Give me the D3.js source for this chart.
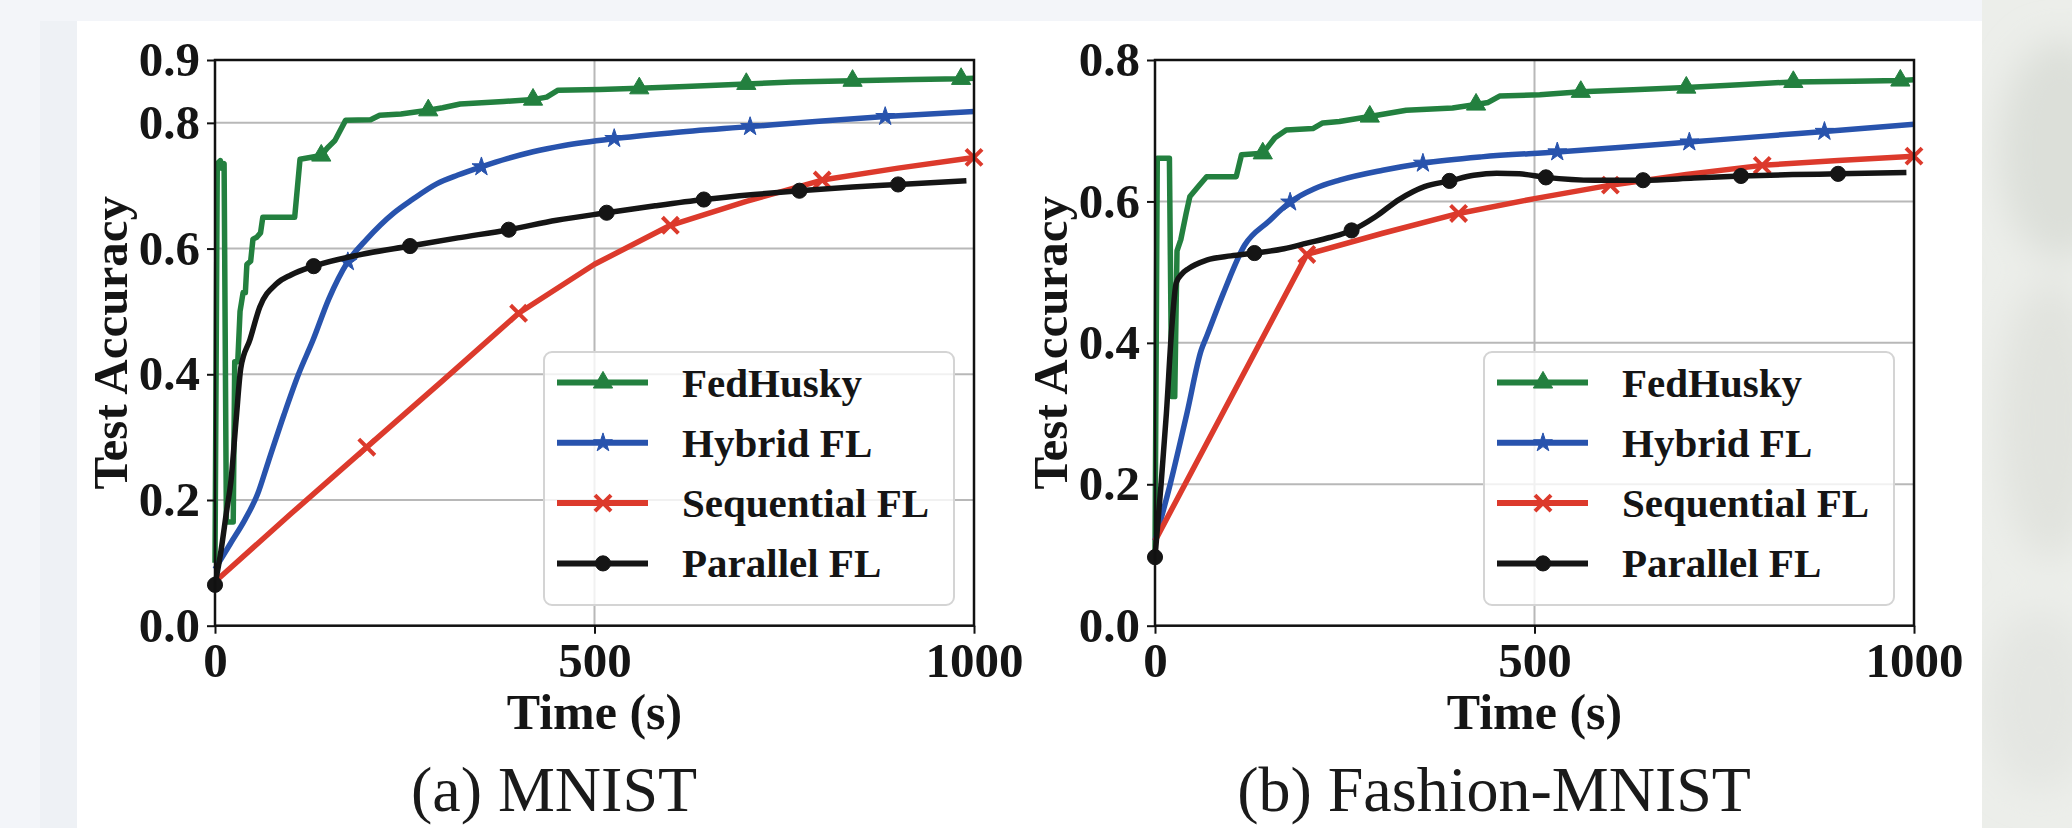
<!DOCTYPE html>
<html>
<head>
<meta charset="utf-8">
<script src="https://cdn.jsdelivr.net/npm/d3@7"></script>
<style>
  html, body { margin: 0; padding: 0; background: #f3f5f9; }
  svg { display: block; }
</style>
</head>
<body>
<svg id="fig" width="2072" height="828"></svg>
<script>
"use strict";

// shared tick labels
let timeTicks = [0, 500, 1000];
let mnistAccTicks = [0.0, 0.2, 0.4, 0.6, 0.8, 0.9];
let fashionAccTicks = [0.0, 0.2, 0.4, 0.6, 0.8];
let methods = ['FedHusky', 'Hybrid FL', 'Sequential FL', 'Parallel FL'];
let captions = ['(a) MNIST', '(b) Fashion-MNIST'];

// (a) MNIST
let mnistHuskyTime = [0, 3, 7, 9, 12, 15, 24, 26, 30, 33, 37, 40, 42, 47, 50, 55, 60, 63, 105, 112, 140, 148, 158, 172, 205, 217, 245, 281, 300, 323, 380, 419, 437, 452, 507, 559, 620, 700, 760, 840, 920, 983, 1000];
let mnistHuskyAcc = [0.10, 0.735, 0.74, 0.728, 0.735, 0.165, 0.165, 0.42, 0.42, 0.50, 0.53, 0.53, 0.575, 0.58, 0.615, 0.618, 0.625, 0.65, 0.65, 0.742, 0.748, 0.76, 0.772, 0.804, 0.805, 0.812, 0.814, 0.82, 0.824, 0.83, 0.834, 0.837, 0.841, 0.852, 0.853, 0.855, 0.858, 0.862, 0.865, 0.867, 0.869, 0.870, 0.871];
let mnistHuskyMarks = [140, 281, 419, 559, 700, 840, 983];

let mnistHybridTime = [0, 20, 40, 56, 70, 91, 110, 129, 150, 175, 200, 235, 260, 292, 320, 351, 385, 419, 460, 526, 600, 705, 800, 883, 1000];
let mnistHybridAcc = [0.09, 0.13, 0.17, 0.209, 0.26, 0.336, 0.40, 0.454, 0.52, 0.579, 0.615, 0.656, 0.678, 0.703, 0.717, 0.730, 0.743, 0.754, 0.764, 0.775, 0.784, 0.794, 0.803, 0.810, 0.818];
let mnistHybridMarks = [175, 351, 526, 705, 883];

let mnistSeqTime = [0, 100, 200, 300, 400, 500, 600, 700, 800, 900, 1000];
let mnistSeqAcc = [0.07, 0.178, 0.284, 0.39, 0.497, 0.575, 0.637, 0.675, 0.709, 0.728, 0.745];
let mnistSeqMarks = [200, 400, 600, 800, 1000];

let mnistParTime = [0, 8, 15, 21, 28, 34, 46, 59, 81, 100, 130, 190, 257, 320, 387, 450, 516, 580, 644, 710, 770, 840, 900, 990];
let mnistParAcc = [0.065, 0.12, 0.18, 0.23, 0.33, 0.41, 0.455, 0.507, 0.544, 0.558, 0.572, 0.59, 0.604, 0.617, 0.630, 0.645, 0.657, 0.668, 0.678, 0.686, 0.692, 0.698, 0.702, 0.708];
let mnistParMarks = [0, 130, 257, 387, 516, 644, 770, 900];

// (b) Fashion-MNIST
let fashionHuskyTime = [0, 3, 19, 22, 26, 29, 34, 41, 46, 57, 68, 107, 114, 142, 158, 173, 208, 221, 243, 283, 331, 392, 423, 439, 454, 507, 561, 630, 700, 770, 841, 920, 982, 1000];
let fashionHuskyAcc = [0.10, 0.661, 0.661, 0.324, 0.324, 0.53, 0.546, 0.583, 0.607, 0.621, 0.635, 0.635, 0.666, 0.668, 0.69, 0.701, 0.703, 0.711, 0.713, 0.72, 0.729, 0.732, 0.737, 0.74, 0.749, 0.751, 0.755, 0.758, 0.761, 0.765, 0.769, 0.770, 0.771, 0.772];
let fashionHuskyMarks = [142, 283, 423, 561, 700, 841, 982];

let fashionHybridTime = [0, 20, 42, 61, 68, 90, 118, 150, 178, 210, 243, 300, 353, 430, 530, 620, 704, 800, 882, 1000];
let fashionHybridAcc = [0.12, 0.20, 0.30, 0.39, 0.409, 0.47, 0.538, 0.572, 0.599, 0.618, 0.630, 0.644, 0.654, 0.663, 0.670, 0.677, 0.684, 0.692, 0.699, 0.709];
let fashionHybridMarks = [178, 353, 530, 704, 882];

let fashionSeqTime = [0, 200, 300, 400, 500, 600, 700, 800, 900, 1000];
let fashionSeqAcc = [0.12, 0.525, 0.555, 0.583, 0.604, 0.623, 0.638, 0.651, 0.658, 0.664];
let fashionSeqMarks = [200, 400, 600, 800, 1000];

let fashionParTime = [0, 8, 15, 22, 28, 36, 44, 68, 100, 131, 170, 200, 230, 259, 290, 322, 355, 388, 420, 450, 480, 515, 580, 643, 710, 772, 840, 900, 990];
let fashionParAcc = [0.097, 0.20, 0.30, 0.42, 0.485, 0.498, 0.505, 0.517, 0.523, 0.527, 0.533, 0.541, 0.549, 0.559, 0.578, 0.603, 0.621, 0.629, 0.637, 0.640, 0.639, 0.634, 0.630, 0.630, 0.633, 0.636, 0.638, 0.639, 0.641];
let fashionParMarks = [0, 131, 259, 388, 515, 643, 772, 900];

// look of each method (same order as `methods`)
let colors = ['#23803f', '#2853ad', '#dc3a2c', '#151515'];
let shapes = ['triangle', 'star', 'x', 'circle'];
let curves = [d3.curveLinear, d3.curveMonotoneX, d3.curveLinear, d3.curveMonotoneX];

let svg = d3.select('#fig');
let serif = "'Liberation Serif', 'Times New Roman', serif";

// ---- page backdrop (photo of a slide) ----
let defs = svg.append('defs');
defs.append('filter').attr('id', 'soft')
    .append('feGaussianBlur').attr('stdDeviation', 18);

svg.append('rect').attr('width', 2072).attr('height', 828).attr('fill', '#f3f5f9');
svg.append('rect').attr('x', 40).attr('y', 21).attr('width', 37).attr('height', 807).attr('fill', '#eef1f5');
svg.append('rect').attr('x', 1982).attr('y', 0).attr('width', 90).attr('height', 828).attr('fill', '#eceeea');
let blobs = svg.append('g').attr('filter', 'url(#soft)');
blobs.append('ellipse').attr('cx', 2060).attr('cy', 150).attr('rx', 60).attr('ry', 110).attr('fill', '#dcdfd9');
blobs.append('ellipse').attr('cx', 2050).attr('cy', 420).attr('rx', 50).attr('ry', 140).attr('fill', '#e1e3de');
blobs.append('ellipse').attr('cx', 2040).attr('cy', 700).attr('rx', 55).attr('ry', 90).attr('fill', '#e4e6e2');
svg.append('rect').attr('x', 77).attr('y', 21).attr('width', 1905).attr('height', 807).attr('fill', '#ffffff');

function symbolFor(shape) {
    if (shape === 'triangle') return d3.symbol(d3.symbolTriangle, 160);
    if (shape === 'star') return d3.symbol(d3.symbolStar, 110);
    if (shape === 'x') return d3.symbol(d3.symbolX, 170);
    return d3.symbol(d3.symbolCircle, 180);
}

function drawMarker(g, i, px, py) {
    let path = g.append('path')
        .attr('d', symbolFor(shapes[i])())
        .attr('transform', 'translate(' + px + ',' + py + ')');
    if (shapes[i] === 'x') {
        path.attr('fill', 'none').attr('stroke', colors[i]).attr('stroke-width', 4);
    } else {
        path.attr('fill', colors[i]).attr('stroke', colors[i]).attr('stroke-width', 1);
    }
}

function drawPanel(x0, yMax, yTicks, series, caption) {
    let top = 60, bottom = 625.7, width = 759;
    let x = d3.scaleLinear().domain([0, 1000]).range([x0, x0 + width]);
    let y = d3.scaleLinear().domain([0, yMax]).range([bottom, top]);
    let g = svg.append('g');

    // grid
    g.append('g').selectAll('line').data(yTicks).enter().append('line')
        .attr('x1', x0).attr('x2', x0 + width)
        .attr('y1', function (d) { return y(d); }).attr('y2', function (d) { return y(d); })
        .attr('stroke', '#b8b8b8').attr('stroke-width', 2);
    g.append('g').selectAll('line').data(timeTicks).enter().append('line')
        .attr('x1', function (d) { return x(d); }).attr('x2', function (d) { return x(d); })
        .attr('y1', top).attr('y2', bottom)
        .attr('stroke', '#b8b8b8').attr('stroke-width', 2);

    // curves
    series.forEach(function (s, i) {
        let pts = s.time.map(function (t, k) { return [t, s.acc[k]]; });
        g.append('path')
            .datum(pts)
            .attr('fill', 'none')
            .attr('stroke', colors[i])
            .attr('stroke-width', 5.5)
            .attr('stroke-linejoin', 'round')
            .attr('d', d3.line()
                .x(function (d) { return x(d[0]); })
                .y(function (d) { return y(d[1]); })
                .curve(curves[i]));
        let mg = g.append('g');
        pts.forEach(function (p) {
            if (s.marks.indexOf(p[0]) >= 0) drawMarker(mg, i, x(p[0]), y(p[1]));
        });
    });

    // frame
    g.append('rect')
        .attr('x', x0).attr('y', top).attr('width', width).attr('height', bottom - top)
        .attr('fill', 'none').attr('stroke', '#111').attr('stroke-width', 2.5);

    // axes
    let ya = g.append('g').attr('transform', 'translate(' + x0 + ',0)')
        .call(d3.axisLeft(y).tickValues(yTicks).tickFormat(d3.format('.1f')).tickSize(8).tickPadding(7));
    let xa = g.append('g').attr('transform', 'translate(0,' + bottom + ')')
        .call(d3.axisBottom(x).tickValues(timeTicks).tickFormat(d3.format('d')).tickSize(8).tickPadding(9));
    [ya, xa].forEach(function (a) {
        a.select('.domain').remove();
        a.selectAll('line').attr('stroke', '#111').attr('stroke-width', 2);
        a.selectAll('text')
            .attr('fill', '#151515')
            .style('font-family', serif)
            .style('font-weight', 'bold')
            .style('font-size', '49px');
    });

    // axis titles
    g.append('text')
        .attr('transform', 'translate(' + (x0 - 88) + ',' + ((top + bottom) / 2) + ') rotate(-90)')
        .attr('text-anchor', 'middle')
        .attr('fill', '#151515')
        .style('font-family', serif).style('font-weight', 'bold').style('font-size', '49px')
        .text('Test Accuracy');
    g.append('text')
        .attr('x', x0 + width / 2).attr('y', 729)
        .attr('text-anchor', 'middle')
        .attr('fill', '#151515')
        .style('font-family', serif).style('font-weight', 'bold').style('font-size', '50px')
        .text('Time (s)');

    // legend
    let lx = x0 + 329, ly = 352, lw = 410, lh = 253;
    let lg = g.append('g');
    lg.append('rect')
        .attr('x', lx).attr('y', ly).attr('width', lw).attr('height', lh)
        .attr('rx', 8).attr('ry', 8)
        .attr('fill', '#ffffff').attr('fill-opacity', 0.8)
        .attr('stroke', '#d4d4d4').attr('stroke-width', 2);
    methods.forEach(function (m, i) {
        let ry = ly + 30.5 + i * 60.3;
        lg.append('line')
            .attr('x1', lx + 13).attr('x2', lx + 104)
            .attr('y1', ry).attr('y2', ry)
            .attr('stroke', colors[i]).attr('stroke-width', 6);
        drawMarker(lg, i, lx + 59, ry);
        lg.append('text')
            .attr('x', lx + 138).attr('y', ry + 14)
            .attr('fill', '#151515')
            .style('font-family', serif).style('font-weight', 'bold').style('font-size', '41px')
            .text(m);
    });

    // sub-caption
    g.append('text')
        .attr('x', x0 + 339).attr('y', 811)
        .attr('text-anchor', 'middle')
        .attr('fill', '#1a1a1a')
        .style('font-family', serif).style('font-size', '64px')
        .text(caption);
}

drawPanel(215, 0.9, mnistAccTicks, [
    { time: mnistHuskyTime, acc: mnistHuskyAcc, marks: mnistHuskyMarks },
    { time: mnistHybridTime, acc: mnistHybridAcc, marks: mnistHybridMarks },
    { time: mnistSeqTime, acc: mnistSeqAcc, marks: mnistSeqMarks },
    { time: mnistParTime, acc: mnistParAcc, marks: mnistParMarks }
], captions[0]);

drawPanel(1155, 0.8, fashionAccTicks, [
    { time: fashionHuskyTime, acc: fashionHuskyAcc, marks: fashionHuskyMarks },
    { time: fashionHybridTime, acc: fashionHybridAcc, marks: fashionHybridMarks },
    { time: fashionSeqTime, acc: fashionSeqAcc, marks: fashionSeqMarks },
    { time: fashionParTime, acc: fashionParAcc, marks: fashionParMarks }
], captions[1]);
</script>
</body>
</html>
